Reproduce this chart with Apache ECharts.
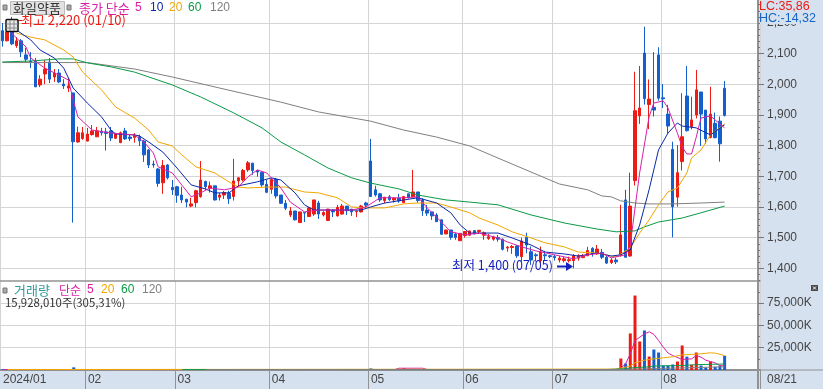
<!DOCTYPE html>
<html><head><meta charset="utf-8">
<style>html,body{margin:0;padding:0;background:#fff}#c{width:823px;height:389px}</style>
<script src="https://cdn.jsdelivr.net/npm/echarts@6/dist/echarts.min.js"></script>
</head><body><div id="c"></div>
<script>
const monthDays = {
  '01':[8,9,10,11,12,15,16,17,18,19,22,23,24,25,26,29,30,31],
  '02':[1,2,5,6,7,8,13,14,15,16,19,20,21,22,23,26,27,28,29],
  '03':[4,5,6,7,8,11,12,13,14,15,18,19,20,21,22,25,26,27,28,29],
  '04':[1,2,3,4,5,8,9,11,12,15,16,17,18,19,22,23,24,25,26,29,30],
  '05':[2,3,7,8,9,10,13,14,16,17,20,21,22,23,24,27,28,29,30,31],
  '06':[3,4,5,7,10,11,12,13,14,17,18,19,20,21,24,25,26,27,28],
  '07':[1,2,3,4,5,8,9,10,11,12,15,16,17,18,19,22,23,24,25,26,29,30,31],
  '08':[1,2,5,6,7,8,9,12,13,14,16,19,20,21]
};
const monthStarts = [0,18,37,57,78,98,117,140];
const monthLabels = ['2024/01','02','03','04','05','06','07','08'];
const priceTicks = [1400,1500,1600,1700,1800,1900,2000,2100,2200];
const volumeTicks = [25000,50000,75000];

const open = [2175,2142,2197,2126,2142,2096,2076,2076,1998,2034,2073,2024,2037,2001,1988,1972,1812,1823,1815,1836,1829,1847,1845,1848,1824,1810,1848,1828,1827,1829,
1815,1786,1740,1724,1679,1737,1664,1666,1639,1625,1603,1614,1634,1683,1661,1669,1632,1639,1645,1634,1685,1688,1721,1743,1719,1713,1674,1658,1690,1639,
1612,1574,1587,1549,1582,1569,1577,1613,1574,1556,1590,1571,1577,1603,1593,1585,1584,1613,1750,1656,1643,1621,1633,1623,1629,1614,1643,1633,1649,1623,
1590,1584,1574,1558,1512,1525,1512,1490,1507,1508,1523,1520,1508,1497,1495,1500,1495,1466,1468,1473,1438,1501,1454,1444,1425,1444,1441,1439,1427,1425,
1425,1425,1433,1435,1441,1465,1447,1452,1436,1419,1427,1444,1623,1440,1686,1897,2102,1934,1925,2096,1956,1903,1788,1632,1748,1962,1862,1900,1975,1916,
1827,1873,1880,1987];
const close = [2142,2171,2132,2142,2106,2082,2073,1992,2017,2050,2017,2037,2008,1995,1995,1813,1842,1842,1838,1848,1848,1842,1840,1825,1838,1842,1822,1823,1834,1816,
1770,1737,1737,1677,1735,1695,1656,1638,1623,1616,1610,1653,1688,1666,1669,1623,1639,1647,1627,1685,1695,1719,1744,1719,1714,1672,1648,1690,1636,1612,
1596,1587,1558,1584,1580,1597,1623,1577,1582,1593,1584,1599,1603,1588,1584,1587,1603,1606,1634,1639,1623,1632,1624,1629,1620,1634,1630,1649,1621,1588,
1580,1571,1552,1511,1525,1501,1501,1514,1520,1522,1512,1524,1516,1503,1502,1495,1462,1469,1471,1441,1489,1476,1427,1441,1454,1441,1438,1435,1433,1431,
1428,1441,1441,1440,1458,1447,1463,1436,1417,1427,1421,1509,1436,1603,1914,1923,1953,1952,1916,1955,1953,1864,1601,1712,1829,1849,1884,1982,1903,1822,
1903,1826,1806,1899];
const low = [2123,2140,2128,2119,2089,2073,2053,1991,1991,2001,2004,2008,2004,1985,1975,1549,1809,1819,1814,1833,1828,1833,1784,1815,1822,1808,1819,1815,1810,1799,
1747,1727,1728,1666,1643,1690,1639,1614,1613,1599,1599,1599,1630,1656,1647,1621,1621,1626,1610,1621,1666,1683,1715,1705,1699,1666,1645,1643,1628,1610,
1590,1567,1556,1549,1551,1567,1571,1561,1569,1555,1567,1569,1575,1574,1571,1567,1582,1600,1634,1634,1617,1612,1620,1614,1614,1613,1628,1632,1614,1571,
1571,1558,1551,1509,1512,1493,1493,1490,1500,1506,1511,1512,1493,1493,1490,1487,1458,1454,1447,1434,1422,1449,1411,1422,1417,1427,1433,1425,1419,1419,
1419,1400,1425,1433,1441,1438,1444,1430,1414,1414,1414,1438,1436,1438,1670,1871,1934,1854,1895,1947,1923,1840,1501,1601,1719,1846,1853,1889,1799,1806,
1824,1824,1748,1895];
const high = [2200,2184,2220,2154,2148,2119,2105,2086,2030,2079,2086,2050,2050,2017,2021,1972,1862,1861,1858,1867,1861,1858,1858,1861,1842,1846,1858,1838,1841,1836,
1819,1789,1751,1727,1753,1740,1688,1669,1666,1627,1630,1656,1750,1686,1683,1669,1646,1652,1653,1757,1698,1724,1750,1744,1721,1714,1688,1695,1695,1639,
1623,1600,1587,1584,1582,1599,1623,1620,1586,1594,1593,1607,1610,1603,1593,1587,1607,1617,1822,1669,1646,1632,1639,1629,1643,1636,1643,1721,1649,1629,
1607,1584,1580,1560,1525,1525,1516,1514,1520,1522,1523,1525,1520,1512,1506,1509,1497,1473,1476,1476,1500,1516,1471,1449,1471,1457,1444,1444,1440,1438,
1438,1446,1446,1446,1470,1469,1476,1463,1440,1433,1434,1607,1656,1712,2041,2060,2188,2016,2105,2121,2001,1933,1813,1802,1971,2060,1960,2047,1975,1916,
1992,1908,1895,2011];
const volume = [900,700,1000,500,600,500,400,700,400,400,500,400,400,300,300,3000,600,400,400,300,300,300,300,300,300,400,300,300,300,300,
500,400,300,500,500,400,400,400,400,300,300,400,800,400,300,300,300,300,300,700,300,300,400,300,300,300,300,300,300,300,
300,300,300,300,300,300,400,400,300,300,300,300,300,300,300,300,300,300,1800,500,400,300,300,300,300,2200,300,900,400,300,
300,300,300,1000,300,300,300,300,300,300,300,300,300,300,300,300,400,300,300,300,500,400,300,300,300,300,300,300,300,300,
300,800,300,300,300,300,300,300,300,300,300,12900,7300,41000,83500,32000,44300,15100,23000,19600,5000,5000,6200,9500,27500,15000,5800,19600,5000,2800,
9500,3600,5000,15928];

const ma5 = [[1,2194],[2,2167],[3,2151],[5,2122],[6,2086],[9,2053],[12,2030],[14,2014],[15,1949],[16,1894],[19,1851],[23,1841],[28,1835],[30,1812],[32,1776],[33,1731],[36,1711],[38,1672],[40,1633],[42,1646],[44,1662],[47,1656],[50,1665],[52,1698],[54,1721],[56,1711],[59,1662],[61,1616],[64,1584],[67,1590],[74,1590],[77,1600],[80,1630],[85,1630],[88,1633],[90,1597],[93,1551],[95,1519],[98,1509],[101,1515],[105,1499],[107,1486],[110,1470],[113,1457],[117,1444],[121,1431],[124,1444],[127,1450],[129,1434],[132,1444],[133,1476],[135,1711],[136,1802],[137,1894],[138,1939],[140,1946],[141,1923],[143,1841],[144,1796],[145,1773],[146,1773],[147,1828],[148,1890],[150,1897],[153,1858]];
const ma10 = [[3,2177],[6,2145],[8,2112],[11,2086],[13,2053],[15,1988],[18,1939],[21,1894],[23,1851],[24,1838],[28,1835],[29,1832],[31,1812],[34,1779],[37,1727],[40,1672],[43,1659],[45,1646],[48,1646],[50,1669],[54,1682],[57,1695],[59,1688],[62,1646],[64,1607],[66,1590],[70,1590],[76,1590],[78,1600],[81,1613],[88,1630],[92,1613],[95,1581],[97,1541],[99,1515],[105,1515],[108,1499],[112,1476],[115,1453],[119,1447],[122,1440],[126,1450],[129,1440],[131,1444],[133,1460],[135,1541],[137,1656],[139,1786],[141,1841],[143,1874],[144,1864],[147,1858],[150,1835],[153,1868]];
const ma20 = [[3,2167],[6,2154],[9,2145],[13,2112],[15,2089],[17,2040],[21,1982],[24,1926],[28,1890],[31,1851],[33,1812],[36,1799],[38,1770],[41,1731],[45,1711],[48,1682],[50,1665],[52,1662],[56,1665],[60,1665],[64,1649],[67,1646],[71,1630],[74,1600],[78,1597],[81,1597],[85,1610],[88,1613],[92,1613],[95,1600],[99,1581],[101,1564],[105,1541],[108,1519],[112,1499],[115,1483],[119,1470],[122,1453],[126,1450],[129,1440],[130,1437],[133,1466],[135,1515],[137,1558],[139,1607],[141,1649],[143,1662],[145,1711],[146,1760],[148,1786],[150,1835],[153,1871]];
const ma60 = [[0,2073],[6,2076],[12,2083],[15,2083],[18,2070],[23,2057],[28,2040],[36,1998],[42,1959],[49,1907],[55,1858],[59,1812],[64,1770],[69,1727],[74,1695],[78,1678],[84,1659],[88,1639],[94,1623],[99,1616],[105,1607],[112,1574],[119,1548],[126,1528],[130,1519],[134,1522],[136,1535],[139,1551],[144,1564],[148,1581],[153,1603]];
const ma120 = [[0,2071],[18,2071],[28,2050],[36,2024],[46,1988],[59,1942],[67,1910],[78,1880],[85,1851],[92,1828],[99,1799],[106,1753],[112,1714],[118,1675],[124,1656],[127,1636],[129,1633],[131,1620],[134,1613],[137,1610],[142,1610],[148,1613],[153,1616]];
const volMa5 = [[0,500],[1,500],[83,500],[84,2000],[89,2000],[90,500],[130,600],[131,2000],[132,6900],[133,18200],[134,33000],[136,40500],[137,42800],[138,40000],[139,33000],[140,25600],[141,19000],[142,16200],[144,11800],[146,12500],[147,16200],[148,14400],[149,11000],[150,9500],[151,8000],[152,5000],[153,4300]];
const volMa20 = [[1,500],[130,1000],[133,4300],[134,8000],[136,11000],[138,12500],[140,13700],[142,14800],[144,17000],[146,17400],[148,18200],[150,19300],[151,18900],[153,16200]];
const volMa60 = [[38,500],[128,500],[132,1500],[134,2800],[137,3500],[138,4500],[144,5000],[147,6000],[153,6700]];
const volMa120 = [[43,500],[130,500],[137,1500],[145,2500],[153,3600]];

const C = {red:'#ec1c14',blue:'#155fcc',m5:'#d91fa8',m10:'#0a28a8',m20:'#f0a800',m60:'#0a9a46',m120:'#808080',
  grid:'#d4d4d4',axis:'#929292',strip:'#d6e1ef',text:'#444444'};
const KR = '"Noto Sans CJK KR"', NUM = '"Liberation Sans"';

const dates = [];
Object.keys(monthDays).forEach(m => monthDays[m].forEach(d => dates.push('2024/'+m+'/'+String(d).padStart(2,'0'))));
const categories = dates.concat(Array(7).fill(''));
const isStart = i => monthStarts.indexOf(i) >= 0;
const vGrid = {show:true, interval:i=>isStart(i), lineStyle:{color:C.grid,width:1}};
const priceMinor = [], volMinor = [];
for (let p = 1360; p <= 2260; p += 20) priceMinor.push(p);
for (let v = 12500; v <= 87500; v += 12500) volMinor.push(v);

const line = (name,data,color,xi,yi,z) => ({name,type:'line',data,xAxisIndex:xi,yAxisIndex:yi,symbol:'none',showSymbol:false,
  lineStyle:{color,width:1},z,silent:true,animation:false});

const t = (x,y,text,fill,size,font) => ({type:'text',z:61,x,y,style:{text,fill,fontSize:size||12,fontFamily:font||KR,verticalAlign:'middle'}});
const sq = (x,y) => ({type:'rect',z:50,shape:{x,y,width:4,height:5},style:{fill:'#a8a8a8',stroke:'#777',lineWidth:1}});
const ln = (x1,y1,x2,y2,stroke,w,z) => ({type:'line',z:z||50,shape:{x1,y1,x2,y2},style:{stroke,lineWidth:w||1}});

const graphic = [
  {type:'rect',z:-1,shape:{x:758,y:0,width:65,height:389},style:{fill:C.strip}},
  {type:'rect',z:-1,shape:{x:0,y:370,width:823,height:19},style:{fill:C.strip}},
  ln(758,370,758,389,C.axis,2), ln(758,370,823,370,C.axis,1),
  sq(3,5), {type:'rect',z:50,shape:{x:10.5,y:1.5,width:54,height:13},style:{fill:'#e2e2e2',stroke:'#bbbbbb',lineWidth:1}},
  t(13,8,'화일약품','#333333',13), sq(67,5),
  t(79,8,'종가 단순',C.m5,13), t(135,8,'5',C.m5,12,NUM), t(150,8,'10',C.m10,12,NUM), t(169,8,'20',C.m20,12,NUM), t(188,8,'60',C.m60,12,NUM), t(210,8,'120',C.m120,12,NUM),
  ln(18,20.5,22,20.5,C.red,1),
  t(21,20,'최고 2,220 (01/10)',C.red,13),
  {type:'rect',z:62,shape:{x:6,y:19.5,width:12,height:12,r:1},style:{fill:'#e8e8e8',stroke:'#111111',lineWidth:1.5}},
  ln(6,24,18,24,'#888888',1,63), ln(6,28,18,28,'#888888',1,63), ln(10,20,10,31,'#888888',1,63), ln(14,20,14,31,'#888888',1,63),
  t(452,265,'최저 1,400 (07/05)','#1420c0',12.5),
  ln(557,266.5,567,266.5,'#1420c0',2),
  {type:'polygon',z:50,shape:{points:[[566,262],[573,266.5],[566,271]]},style:{fill:'#1420c0'}},
  sq(3,288),
  t(14,290,'거래량','#2f9a9a',13), t(59,290,'단순',C.m5,12), t(87,290,'5',C.m5,12,NUM), t(101,290,'20',C.m20,12,NUM), t(121,290,'60',C.m60,12,NUM), t(142,290,'120',C.m120,12,NUM),
  t(5,303,'15,928,010주(305,31%)','#333333',11.4),
  {type:'rect',z:60,shape:{x:760,y:0,width:63,height:24},style:{fill:C.strip}},
  t(759,7,'LC:35,86',C.red,12.5,NUM), t(759,19,'HC:-14,32','#1464c8',12.5,NUM),
  t(767,380,'08/21',C.text,12,NUM),
  {type:'rect',z:50,shape:{x:811,y:285,width:7,height:6},style:{fill:'#4a4a4a'}},
  ln(813,286.5,816,289.5,'#ffffff',1,51), ln(816,286.5,813,289.5,'#ffffff',1,51)
];

const chart = echarts.init(document.getElementById('c'),null,{renderer:'canvas'});
chart.setOption({
  animation:false, backgroundColor:'#ffffff',
  grid:[{left:0,top:0,width:760,height:281,containLabel:false},{left:0,top:281,width:760,height:89,containLabel:false}],
  xAxis:[
    {type:'category',gridIndex:0,data:categories,boundaryGap:true,axisLine:{show:true,lineStyle:{color:C.axis,width:1.5}},axisTick:{show:false},axisLabel:{show:false},splitLine:vGrid},
    {type:'category',gridIndex:1,data:categories,boundaryGap:true,axisLine:{show:true,lineStyle:{color:C.axis,width:2}},
     axisTick:{show:true,length:19,interval:i=>isStart(i)&&i>0,lineStyle:{color:C.axis,width:1}},
     axisLabel:{show:true,interval:i=>isStart(i),align:'left',margin:4,color:C.text,fontFamily:NUM,fontSize:12,
       formatter:(v,i)=>monthLabels[monthStarts.indexOf(i)]||''},
     splitLine:vGrid}
  ],
  yAxis:[
    {type:'value',gridIndex:0,position:'right',offset:-2,min:1358.6,max:2275.1,
     axisLine:{show:true,onZero:false,lineStyle:{color:C.axis,width:2}},
     axisTick:{show:true,length:6,customValues:priceTicks,lineStyle:{color:'#777'}},
     axisLabel:{show:true,customValues:priceTicks,margin:9,align:'left',color:C.text,fontFamily:NUM,fontSize:12,formatter:v=>v.toLocaleString('en-US')},
     splitLine:{show:true,lineStyle:{color:C.grid,width:1}}},
    {type:'value',gridIndex:0,position:'right',offset:-2,min:1358.6,max:2275.1,
     axisLine:{show:false},axisTick:{show:true,length:2,customValues:priceMinor,lineStyle:{color:'#777'}},axisLabel:{show:false},splitLine:{show:false}},
    {type:'value',gridIndex:1,position:'right',offset:-2,min:0,max:99800,
     axisLine:{show:true,onZero:false,lineStyle:{color:C.axis,width:2}},
     axisTick:{show:true,length:6,customValues:volumeTicks,lineStyle:{color:'#777'}},
     axisLabel:{show:true,customValues:volumeTicks,margin:9,align:'left',color:C.text,fontFamily:NUM,fontSize:12,formatter:v=>v.toLocaleString('en-US')+'K'},
     splitLine:{show:true,lineStyle:{color:C.grid,width:1}}},
    {type:'value',gridIndex:1,position:'right',offset:-2,min:0,max:99800,
     axisLine:{show:false},axisTick:{show:true,length:2,customValues:volMinor,lineStyle:{color:'#777'}},axisLabel:{show:false},splitLine:{show:false}}
  ],
  series:[
    {name:'Price',type:'candlestick',xAxisIndex:0,yAxisIndex:0,barWidth:3,z:3,silent:true,animation:false,
     data:open.map((o,i)=>[o,close[i],low[i],high[i]]),
     itemStyle:{color:C.red,color0:C.blue,borderColor:C.red,borderColor0:C.blue,borderWidth:1}},
    line('MA120',ma120,C.m120,0,0,4), line('MA60',ma60,C.m60,0,0,5), line('MA20',ma20,C.m20,0,0,6), line('MA10',ma10,C.m10,0,0,7), line('MA5',ma5,C.m5,0,0,8),
    {name:'Volume',type:'bar',xAxisIndex:1,yAxisIndex:2,barWidth:3,z:3,silent:true,animation:false,
     data:volume.map((v,i)=>({value:v,itemStyle:{color:close[i]>=open[i]?C.red:C.blue}}))},
    line('VolMA5',volMa5,C.m5,1,2,4), line('VolMA20',volMa20,C.m20,1,2,5), line('VolMA60',volMa60,C.m60,1,2,6), line('VolMA120',volMa120,C.m120,1,2,7)
  ],
  graphic:{elements:graphic}
});
</script></body></html>
